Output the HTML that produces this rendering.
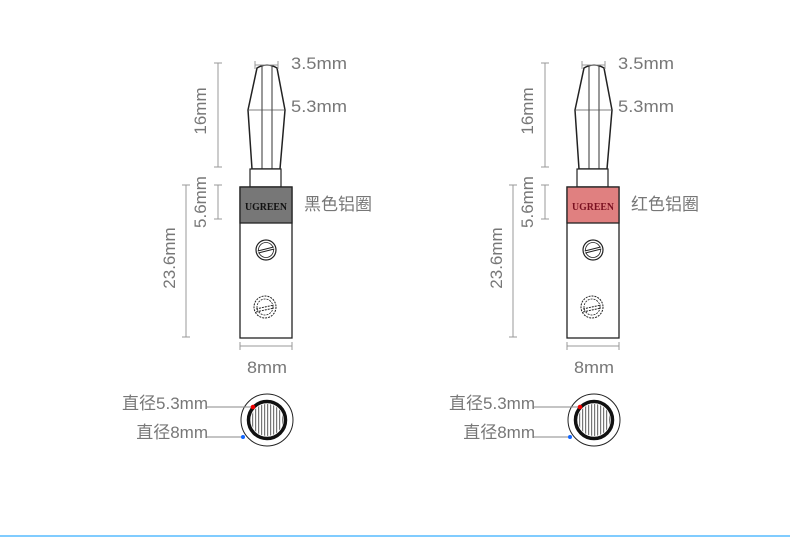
<!DOCTYPE html>
<html><head><meta charset="utf-8"><style>
html,body{margin:0;padding:0;background:#fff;}
svg{display:block}
text{font-family:"Liberation Sans","Noto Sans CJK SC",sans-serif;fill:#777;}
</style></head><body>
<svg width="790" height="537" viewBox="0 0 790 537" xmlns="http://www.w3.org/2000/svg">
<defs>
<pattern id="st" width="3" height="4" patternUnits="userSpaceOnUse"><rect width="3" height="4" fill="#fff"/><rect width="1.2" height="4" fill="#777"/></pattern>
</defs>
<g id="L">
 <path d="M257,68 Q267,62 277,68 L285,110 L280,169 L252,169 L248,110 Z" fill="#fff" stroke="#222" stroke-width="1.5"/>
 <line x1="262" y1="66" x2="262" y2="169" stroke="#333" stroke-width="1"/>
 <line x1="272" y1="66" x2="272" y2="169" stroke="#333" stroke-width="1"/>
 <line x1="248" y1="110" x2="285" y2="110" stroke="#555" stroke-width="0.8"/>
 <rect x="250" y="169" width="31" height="18" fill="#fff" stroke="#222" stroke-width="1.2"/>
 <rect x="240" y="187" width="52" height="151" fill="#fff" stroke="#222" stroke-width="1.3"/>
 <circle cx="266" cy="250" r="10" fill="#fff" stroke="#222" stroke-width="1.2"/>
 <circle cx="266" cy="250" r="7.5" fill="none" stroke="#222" stroke-width="0.8"/>
 <line x1="258" y1="252" x2="274" y2="248" stroke="#222" stroke-width="3"/>
 <line x1="258" y1="252" x2="274" y2="248" stroke="#fff" stroke-width="1"/>
 <circle cx="265" cy="307" r="11" fill="#fff" stroke="#222" stroke-width="1" stroke-dasharray="2 1"/>
 <circle cx="265" cy="307" r="8" fill="none" stroke="#222" stroke-width="0.8" stroke-dasharray="2 1"/>
 <line x1="256" y1="309" x2="274" y2="305" stroke="#222" stroke-width="1" stroke-dasharray="2 1"/>
 <line x1="256" y1="312" x2="274" y2="308" stroke="#222" stroke-width="1" stroke-dasharray="2 1"/>
 <g stroke="#999" stroke-width="1" fill="none">
  <path d="M218,63 V167 M214,63 H222 M214,167 H222"/>
  <path d="M218,185 V219 M214,185 H222 M214,219 H222"/>
  <path d="M186,185 V337 M182,185 H190 M182,337 H190"/>
  <path d="M240,346 H292 M240,342 V350 M292,342 V350"/>
  <path d="M255,65 H278 M255,61 V69 M278,61 V69"/>
 </g>
 <text x="291" y="69" font-size="17" textLength="56" lengthAdjust="spacingAndGlyphs">3.5mm</text>
 <text x="291" y="112" font-size="17" textLength="56" lengthAdjust="spacingAndGlyphs">5.3mm</text>
 <text x="247" y="373" font-size="17" textLength="40" lengthAdjust="spacingAndGlyphs">8mm</text>
 <text transform="translate(206,111) rotate(-90)" font-size="17" text-anchor="middle">16mm</text>
 <text transform="translate(206,202) rotate(-90)" font-size="17" text-anchor="middle">5.6mm</text>
 <text transform="translate(175,258) rotate(-90)" font-size="17" text-anchor="middle">23.6mm</text>
 <circle cx="267" cy="420" r="26" fill="#fff" stroke="#222" stroke-width="1"/>
 <circle cx="267" cy="420" r="16" fill="url(#st)"/>
 <circle cx="267" cy="420" r="18.5" fill="none" stroke="#111" stroke-width="3.5"/>
 <line x1="207" y1="407" x2="253" y2="407" stroke="#888" stroke-width="1"/>
 <line x1="207" y1="437" x2="243" y2="437" stroke="#888" stroke-width="1"/>
 <circle cx="253" cy="407" r="2.3" fill="#e00"/>
 <circle cx="243" cy="437" r="2" fill="#16f"/>
</g>
<rect x="240" y="187" width="52" height="36" fill="#777" stroke="#222" stroke-width="1.3"/>
<text x="266" y="210" font-size="11" text-anchor="middle" textLength="42" lengthAdjust="spacingAndGlyphs" style="font-family:'Liberation Serif',serif;font-weight:bold;fill:#111">UGREEN</text>
<text x="304" y="210" font-size="17">黑色铝圈</text>
<text x="208" y="409" font-size="17" text-anchor="end">直径5.3mm</text>
<text x="208" y="438" font-size="17" text-anchor="end">直径8mm</text>
<use href="#L" transform="translate(327,0)"/>
<rect x="567" y="187" width="52" height="36" fill="#e08080" stroke="#222" stroke-width="1.3"/>
<text x="593" y="210" font-size="11" text-anchor="middle" textLength="42" lengthAdjust="spacingAndGlyphs" style="font-family:'Liberation Serif',serif;font-weight:bold;fill:#7a1020">UGREEN</text>
<text x="631" y="210" font-size="17">红色铝圈</text>
<text x="535" y="409" font-size="17" text-anchor="end">直径5.3mm</text>
<text x="535" y="438" font-size="17" text-anchor="end">直径8mm</text>
<rect x="0" y="535" width="790" height="2" fill="#80ccff"/>
</svg>
</body></html>
